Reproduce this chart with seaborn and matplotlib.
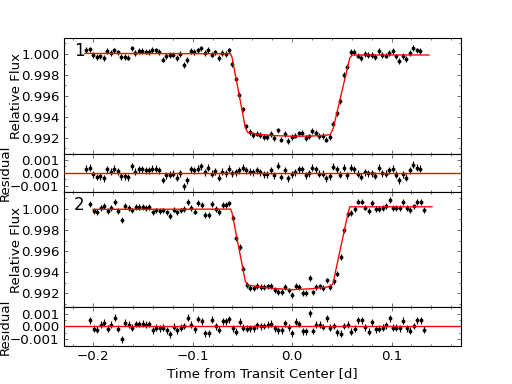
import matplotlib
matplotlib.use("Agg")
import matplotlib.pyplot as plt
import seaborn as sns
from matplotlib.ticker import MultipleLocator, FuncFormatter

# ---------------- data ----------------
time1 = [-0.2070, -0.2035, -0.2000, -0.1965, -0.1930, -0.1895, -0.1860, -0.1825, -0.1790, -0.1755,
         -0.1720, -0.1685, -0.1650, -0.1615, -0.1580, -0.1545, -0.1510, -0.1475, -0.1440, -0.1405,
         -0.1370, -0.1335, -0.1300, -0.1265, -0.1230, -0.1195, -0.1160, -0.1125, -0.1090, -0.1055,
         -0.1020, -0.0985, -0.0950, -0.0915, -0.0880, -0.0845, -0.0810, -0.0775, -0.0740, -0.0705,
         -0.0670, -0.0635, -0.0600, -0.0565, -0.0530, -0.0495, -0.0460, -0.0425, -0.0390, -0.0355,
         -0.0320, -0.0285, -0.0250, -0.0215, -0.0180, -0.0145, -0.0110, -0.0075, -0.0040, -0.0005,
         0.0030, 0.0065, 0.0100, 0.0135, 0.0170, 0.0205, 0.0240, 0.0275, 0.0310, 0.0345,
         0.0380, 0.0415, 0.0450, 0.0485, 0.0520, 0.0555, 0.0590, 0.0625, 0.0660, 0.0695,
         0.0730, 0.0765, 0.0800, 0.0835, 0.0870, 0.0905, 0.0940, 0.0975, 0.1010, 0.1045,
         0.1080, 0.1115, 0.1150, 0.1185, 0.1220, 0.1255, 0.1290]

flux1 = [1.00033, 1.00041, 0.99987, 0.99967, 0.99974, 0.99959, 1.00026, 1.00010, 1.00031, 1.00013,
         0.99972, 0.99972, 0.99964, 1.00051, 1.00008, 1.00028, 1.00026, 1.00020, 1.00018, 1.00033,
         1.00031, 1.00018, 0.99944, 0.99980, 0.99985, 0.99992, 0.99962, 0.99997, 0.99895, 0.99941,
         1.00026, 1.00018, 1.00031, 1.00051, 1.00005, 1.00038, 0.99992, 1.00013, 0.99962, 1.00010,
         0.99997, 1.00031, 0.99903, 0.99756, 0.99606, 0.99471, 0.99308, 0.99255, 0.99230, 0.99240,
         0.99228, 0.99209, 0.99208, 0.99237, 0.99200, 0.99271, 0.99183, 0.99236, 0.99172, 0.99206,
         0.99221, 0.99242, 0.99243, 0.99200, 0.99214, 0.99262, 0.99250, 0.99216, 0.99218, 0.99183,
         0.99210, 0.99333, 0.99434, 0.99552, 0.99796, 0.99878, 1.00019, 1.00016, 0.99982, 0.99959,
         0.99995, 0.99987, 0.99987, 0.99967, 1.00028, 0.99987, 0.99982, 1.00008, 1.00023, 0.99975,
         0.99931, 0.99980, 0.99952, 1.00008, 1.00052, 1.00031, 1.00023]

resid1 = [0.00033, 0.00041, -0.00013, -0.00033, -0.00026, -0.00041, 0.00026, 0.00010, 0.00031, 0.00013,
          -0.00028, -0.00028, -0.00036, 0.00051, 0.00008, 0.00028, 0.00026, 0.00020, 0.00018, 0.00033,
          0.00031, 0.00018, -0.00056, -0.00020, -0.00015, -0.00008, -0.00038, -0.00003, -0.00105, -0.00059,
          0.00026, 0.00018, 0.00031, 0.00051, 0.00005, 0.00038, -0.00008, 0.00013, -0.00038, 0.00010,
          -0.00003, 0.00031, -0.00003, 0.00003, 0.00020, 0.00038, 0.00018, 0.00010, 0.00005, 0.00018,
          0.00005, -0.00013, -0.00013, 0.00018, -0.00018, 0.00054, -0.00033, 0.00020, -0.00044, -0.00010,
          0.00005, 0.00026, 0.00026, -0.00018, -0.00005, 0.00041, 0.00028, -0.00008, -0.00008, -0.00044,
          -0.00026, 0.00049, 0.00028, -0.00015, 0.00041, -0.00018, 0.00038, 0.00026, -0.00008, -0.00031,
          0.00005, -0.00003, -0.00003, -0.00023, 0.00038, -0.00003, -0.00008, 0.00018, 0.00033, -0.00015,
          -0.00059, -0.00010, -0.00038, 0.00018, 0.00062, 0.00041, 0.00033]

time2 = [-0.2030, -0.1995, -0.1960, -0.1925, -0.1890, -0.1855, -0.1820, -0.1785, -0.1750, -0.1715,
         -0.1680, -0.1645, -0.1610, -0.1575, -0.1540, -0.1505, -0.1470, -0.1435, -0.1400, -0.1365,
         -0.1330, -0.1295, -0.1260, -0.1225, -0.1190, -0.1155, -0.1120, -0.1085, -0.1050, -0.1015,
         -0.0980, -0.0945, -0.0910, -0.0875, -0.0840, -0.0805, -0.0770, -0.0735, -0.0700, -0.0665,
         -0.0630, -0.0595, -0.0560, -0.0525, -0.0490, -0.0455, -0.0420, -0.0385, -0.0350, -0.0315,
         -0.0280, -0.0245, -0.0210, -0.0175, -0.0140, -0.0105, -0.0070, -0.0035, 0.0000, 0.0035,
         0.0070, 0.0105, 0.0140, 0.0175, 0.0210, 0.0245, 0.0280, 0.0315, 0.0350, 0.0385,
         0.0420, 0.0455, 0.0490, 0.0525, 0.0560, 0.0595, 0.0630, 0.0665, 0.0700, 0.0735,
         0.0770, 0.0805, 0.0840, 0.0875, 0.0910, 0.0945, 0.0980, 0.1015, 0.1050, 0.1085,
         0.1120, 0.1155, 0.1190, 0.1225, 0.1260, 0.1295, 0.1330]

flux2 = [1.00044, 0.99978, 0.99972, 1.00011, 1.00027, 0.99978, 1.00011, 1.00065, 0.99978, 0.99896,
         1.00027, 1.00011, 0.99986, 1.00016, 1.00016, 1.00019, 1.00011, 1.00016, 0.99967, 0.99986,
         0.99981, 0.99986, 0.99967, 0.99934, 0.99994, 0.99967, 0.99986, 1.00000, 1.00063, 1.00011,
         0.99975, 1.00055, 1.00038, 0.99942, 0.99945, 1.00049, 0.99997, 0.99970, 1.00038, 1.00038,
         1.00052, 0.99911, 0.99727, 0.99641, 0.99429, 0.99283, 0.99252, 0.99248, 0.99271, 0.99260,
         0.99258, 0.99266, 0.99271, 0.99230, 0.99214, 0.99211, 0.99264, 0.99229, 0.99184, 0.99273,
         0.99258, 0.99202, 0.99204, 0.99348, 0.99210, 0.99264, 0.99267, 0.99251, 0.99323, 0.99261,
         0.99314, 0.99388, 0.99546, 0.99800, 0.99950, 0.99959, 1.00001, 1.00069, 1.00069, 1.00012,
         0.99979, 1.00053, 0.99998, 1.00001, 1.00009, 1.00028, 1.00083, 1.00009, 1.00009, 1.00006,
         1.00064, 1.00006, 0.99987, 1.00023, 1.00067, 1.00067, 0.99993]

resid2 = [0.00047, -0.00019, -0.00025, 0.00014, 0.00030, -0.00019, 0.00014, 0.00068, -0.00019, -0.00101,
          0.00030, 0.00014, -0.00011, 0.00019, 0.00019, 0.00022, 0.00014, 0.00019, -0.00030, -0.00011,
          -0.00016, -0.00011, -0.00030, -0.00063, -0.00003, -0.00030, -0.00011, 0.00003, 0.00066, 0.00014,
          -0.00022, 0.00058, 0.00041, -0.00055, -0.00052, 0.00052, 0.00000, -0.00027, 0.00041, 0.00041,
          0.00055, -0.00016, -0.00041, 0.00036, -0.00011, -0.00019, -0.00016, -0.00014, 0.00008, 0.00000,
          0.00003, 0.00014, 0.00022, -0.00016, -0.00030, -0.00030, 0.00025, -0.00008, -0.00052, 0.00036,
          0.00019, -0.00038, -0.00038, 0.00104, -0.00036, 0.00014, 0.00014, -0.00005, 0.00063, -0.00011,
          0.00003, -0.00047, -0.00058, 0.00003, 0.00014, -0.00041, -0.00019, 0.00049, 0.00049, -0.00008,
          -0.00041, 0.00033, -0.00022, -0.00019, -0.00011, 0.00008, 0.00063, -0.00011, -0.00011, -0.00014,
          0.00044, -0.00014, -0.00033, 0.00003, 0.00047, 0.00047, -0.00027]

# transit model curves (knots)
model1_time = [-0.2087, -0.0620, -0.0605, -0.0470, -0.0445, -0.0350, -0.0200, 0.0000,
               0.0200, 0.0350, 0.0385, 0.0415, 0.0580, 0.0605, 0.1380]
model1_flux = [1.00003, 1.00000, 0.99968, 0.99295, 0.99250, 0.99235, 0.99222, 0.99215,
               0.99217, 0.99226, 0.99232, 0.99295, 0.99960, 0.99988, 0.99988]
model2_time = [-0.2005, -0.0620, -0.0605, -0.0470, -0.0445, -0.0350, -0.0200, 0.0000,
               0.0200, 0.0350, 0.0385, 0.0410, 0.0560, 0.0580, 0.1410]
model2_flux = [0.99996, 0.99998, 0.99965, 0.99310, 0.99280, 0.99265, 0.99248, 0.99236,
               0.99245, 0.99260, 0.99272, 0.99290, 0.99950, 1.00020, 1.00020]

flux_error = 0.00027
panel_names = ["1", "2"]
flux_ticks = [0.992, 0.994, 0.996, 0.998, 1.000]
resid_ticks = [-0.001, 0.000, 0.001]
time_ticks = [-0.2, -0.1, 0.0, 0.1]

# ---------------- style ----------------
sns.set_theme(style="ticks")
plt.rcParams.update({
    "font.family": ["DejaVu Sans"],
    "font.size": 12,
    "axes.labelsize": 12,
    "xtick.labelsize": 12,
    "ytick.labelsize": 12,
    "axes.edgecolor": "black",
    "axes.linewidth": 1.0,
    "axes.labelcolor": "black",
    "text.color": "black",
    "xtick.color": "black",
    "ytick.color": "black",
    "xtick.direction": "in",
    "ytick.direction": "in",
    "xtick.top": True,
    "ytick.right": True,
    "xtick.major.size": 4,
    "ytick.major.size": 4,
    "xtick.minor.size": 2,
    "ytick.minor.size": 2,
    "xtick.major.width": 0.5,
    "ytick.major.width": 0.5,
    "xtick.minor.width": 0.5,
    "ytick.minor.width": 0.5,
    "xtick.major.pad": 4,
    "ytick.major.pad": 4,
    "axes.unicode_minus": True,
})


def minus_fmt(fmt):
    return FuncFormatter(lambda v, p: (fmt % v).replace("-", "\u2212") if abs(v) > 1e-12 else (fmt % 0.0))


fig = plt.figure(figsize=(6.4, 4.8), dpi=80)
gs = fig.add_gridspec(4, 1, height_ratios=[3, 1, 3, 1], hspace=0,
                      left=0.125, right=0.9, bottom=0.1, top=0.9)
axes = [fig.add_subplot(gs[i]) for i in range(4)]
for a in axes[1:]:
    a.sharex(axes[0])

sets = [(time1, flux1, resid1, model1_time, model1_flux, (0.9905, 1.00146)),
        (time2, flux2, resid2, model2_time, model2_flux, (0.9907, 1.0016))]

for k, (t, f, r, mt, mf, ylim) in enumerate(sets):
    axf = axes[2 * k]
    axr = axes[2 * k + 1]
    # flux panel
    axf.errorbar(t, f, yerr=flux_error, fmt="none", ecolor="black", elinewidth=1.0, zorder=2)
    sns.scatterplot(x=t, y=f, ax=axf, color="black", s=12, linewidth=0, zorder=3, legend=False)
    sns.lineplot(x=mt, y=mf, ax=axf, color="red", lw=1.2, estimator=None, sort=False,
                 legend=False, zorder=4)
    axf.set_ylim(*ylim)
    axf.set_yticks(flux_ticks)
    axf.yaxis.set_minor_locator(MultipleLocator(0.001))
    axf.yaxis.set_major_formatter(minus_fmt("%.3f"))
    axf.set_ylabel("Relative Flux", labelpad=-1.5)
    axf.text(0.025, 0.965, panel_names[k], transform=axf.transAxes, fontsize=15,
             ha="left", va="top")
    # residual panel
    axr.axhline(0.0, color="red", lw=1.2, zorder=4)
    axr.errorbar(t, r, yerr=flux_error, fmt="none", ecolor="black", elinewidth=1.0, zorder=2)
    sns.scatterplot(x=t, y=r, ax=axr, color="black", s=12, linewidth=0, zorder=3, legend=False)
    axr.set_ylim(-0.0015, 0.0015)
    axr.set_yticks(resid_ticks)
    axr.yaxis.set_minor_locator(MultipleLocator(0.0005))
    axr.yaxis.set_major_formatter(minus_fmt("%.3f"))
    axr.set_ylabel("Residual", labelpad=-1.5)

for a in axes:
    a.set_xlim(-0.2295, 0.1697)
    a.set_xticks(time_ticks)
    a.xaxis.set_minor_locator(MultipleLocator(0.02))
    a.xaxis.set_major_formatter(minus_fmt("%.1f"))
    a.tick_params(which="both", top=True, right=True, direction="in")
    for s in a.spines.values():
        s.set_visible(True)
        s.set_color("black")
for a in axes[:3]:
    a.tick_params(labelbottom=False)
    a.set_xlabel("")
axes[3].set_xlabel("Time from Transit Center [d]")

fig.savefig("out.png", dpi=80)
